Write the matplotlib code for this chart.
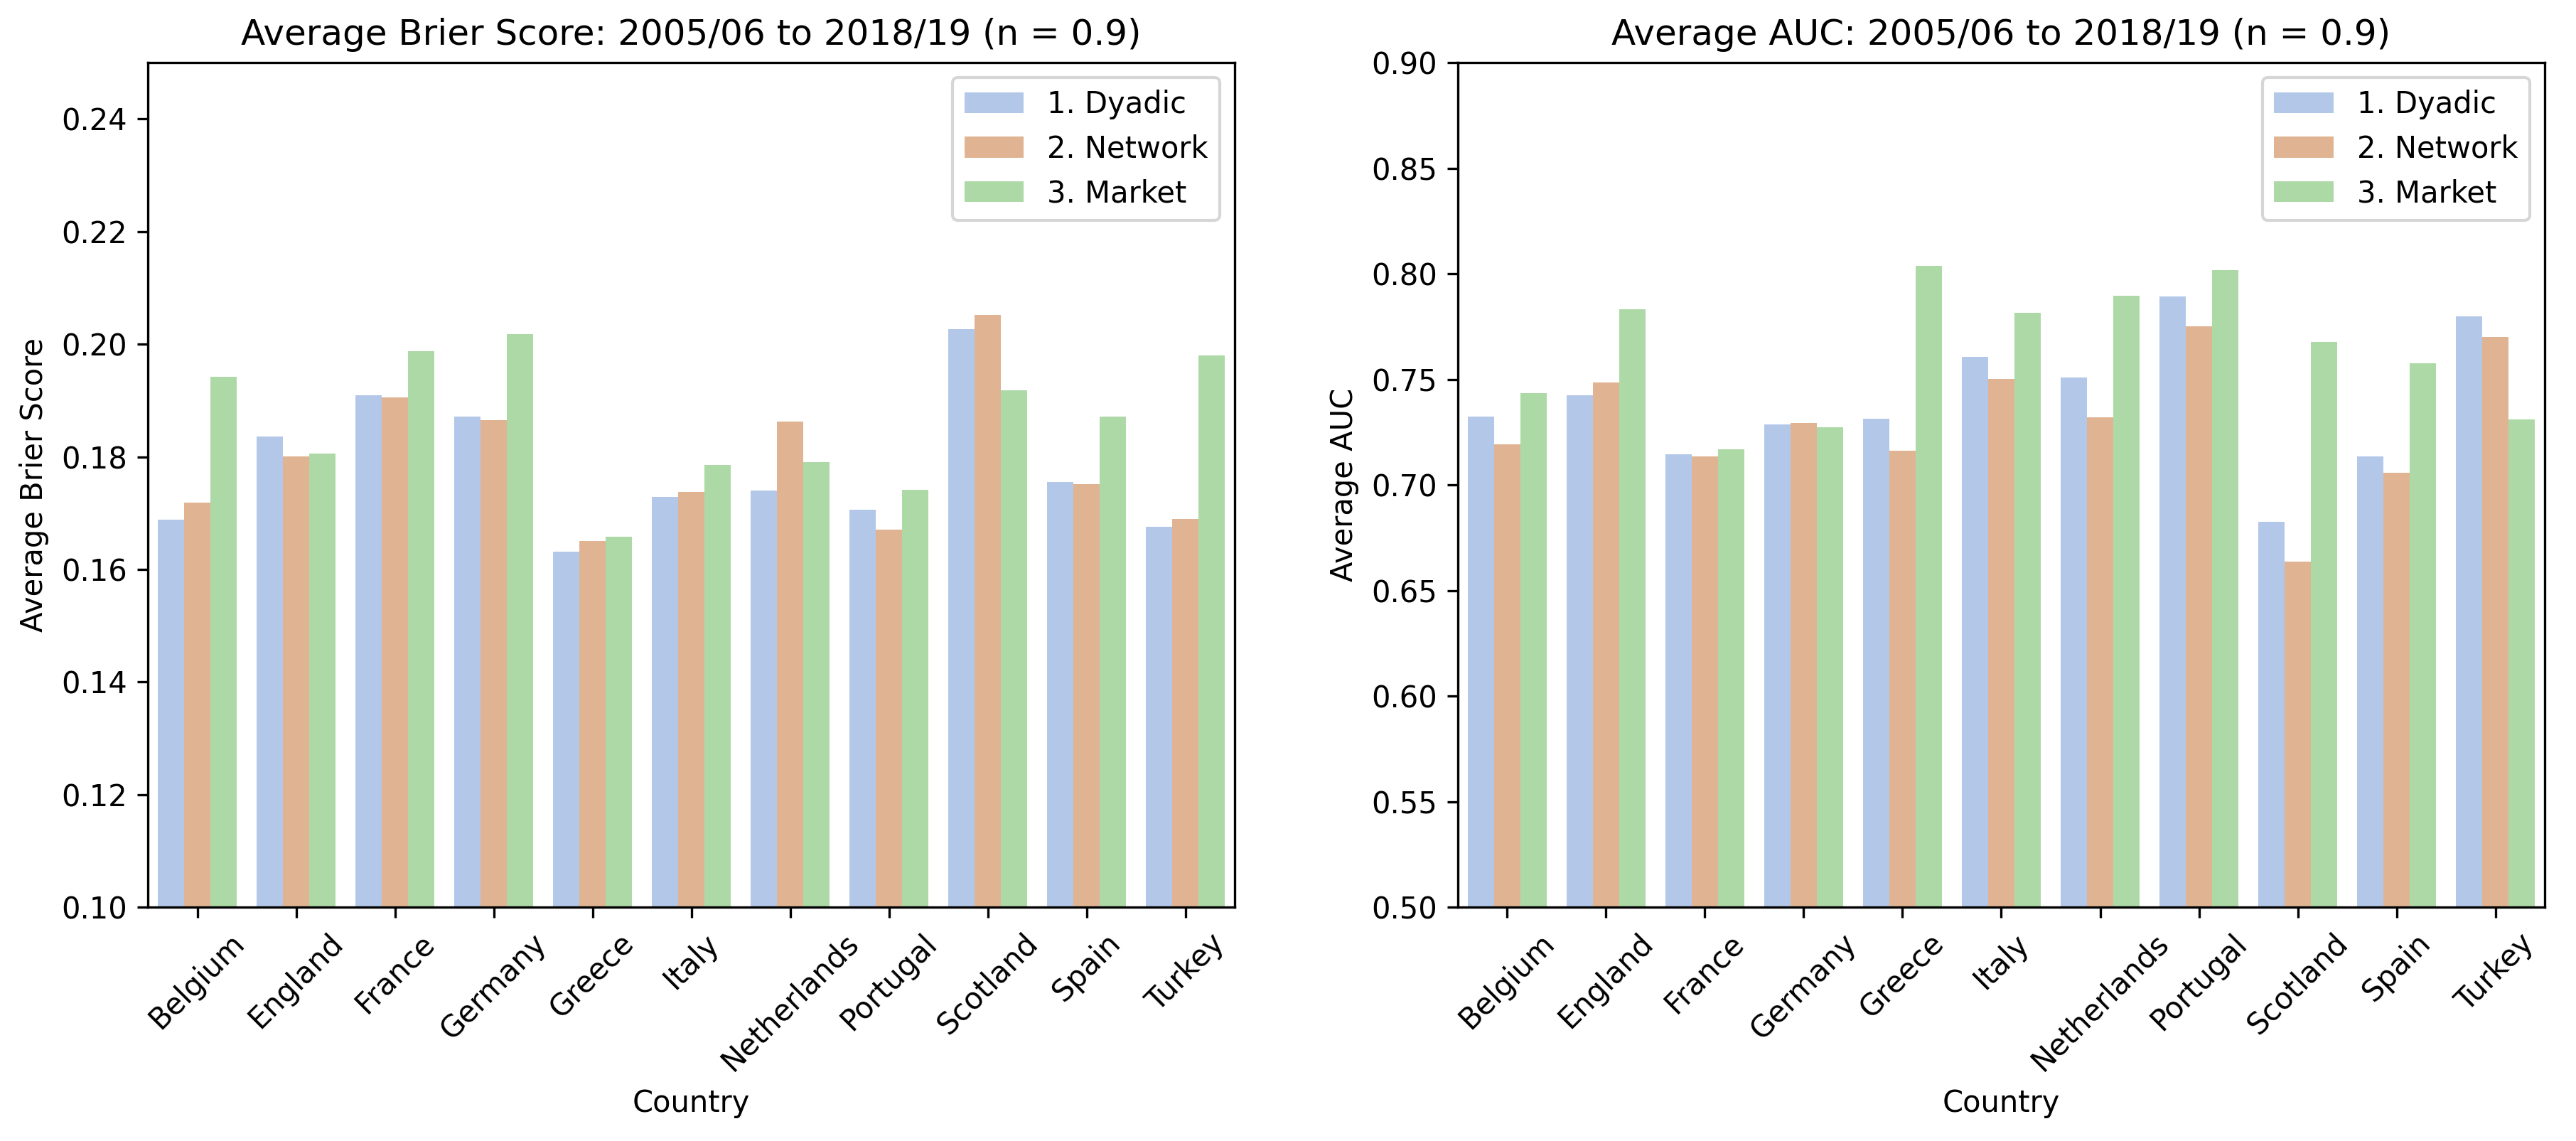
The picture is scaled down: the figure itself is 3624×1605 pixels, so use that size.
import pandas as pd
import seaborn as sns
import matplotlib
matplotlib.use("Agg")
import matplotlib.pyplot as plt

# Countries and model names
countries = ['Belgium', 'England', 'France', 'Germany', 'Greece', 'Italy',
             'Netherlands', 'Portugal', 'Scotland', 'Spain', 'Turkey']
models = ['1. Dyadic', '2. Network', '3. Market']

# Average Brier score per country
brier_dyadic = [0.1688, 0.1836, 0.1909, 0.1871, 0.1632, 0.1729, 0.1740, 0.1706, 0.2027, 0.1755, 0.1676]
brier_network = [0.1719, 0.1801, 0.1905, 0.1865, 0.1650, 0.1737, 0.1863, 0.1671, 0.2052, 0.1752, 0.1689]
brier_market = [0.1942, 0.1806, 0.1988, 0.2018, 0.1658, 0.1786, 0.1791, 0.1741, 0.1918, 0.1871, 0.1980]

# Average AUC per country
auc_dyadic = [0.7324, 0.7424, 0.7145, 0.7286, 0.7314, 0.7607, 0.7510, 0.7893, 0.6824, 0.7134, 0.7797]
auc_network = [0.7193, 0.7486, 0.7134, 0.7293, 0.7162, 0.7503, 0.7321, 0.7752, 0.6638, 0.7059, 0.7700]
auc_market = [0.7434, 0.7831, 0.7169, 0.7272, 0.8038, 0.7817, 0.7897, 0.8017, 0.7676, 0.7576, 0.7310]

# desaturated pastel colours, as in the original
colors = ['#b3c7e8', '#e0b492', '#add9a6']


# Build a long table for seaborn
def make_frame(series_list):
    rows = []
    for model, values in zip(models, series_list):
        for country, v in zip(countries, values):
            rows.append({'Country': country, 'Model': model, 'Value': v})
    return pd.DataFrame(rows)


brier_df = make_frame([brier_dyadic, brier_network, brier_market])
auc_df = make_frame([auc_dyadic, auc_network, auc_market])

fig, (ax1, ax2) = plt.subplots(1, 2, figsize=(12.08, 5.35), dpi=300)
plt.subplots_adjust(left=0.0574, right=0.9879, top=0.945, bottom=0.205, wspace=0.205)

# Brier score panel
sns.barplot(data=brier_df, x='Country', y='Value', hue='Model', palette=colors,
            saturation=1, ax=ax1)
ax1.set_ylim(0.10, 0.25)
ax1.set_yticks([0.10, 0.12, 0.14, 0.16, 0.18, 0.20, 0.22, 0.24])
ax1.set_ylabel('Average Brier Score')
ax1.set_xlabel('Country')
ax1.set_title('Average Brier Score: 2005/06 to 2018/19 (n = 0.9)')
ax1.tick_params(axis='x', rotation=45)
ax1.legend(loc='upper right', title=None)

# AUC panel
sns.barplot(data=auc_df, x='Country', y='Value', hue='Model', palette=colors,
            saturation=1, ax=ax2)
ax2.set_ylim(0.50, 0.90)
ax2.set_ylabel('Average AUC')
ax2.set_xlabel('Country')
ax2.set_title('Average AUC: 2005/06 to 2018/19 (n = 0.9)')
ax2.tick_params(axis='x', rotation=45)
ax2.legend(loc='upper right', title=None)

plt.savefig('out.png', dpi=300)
